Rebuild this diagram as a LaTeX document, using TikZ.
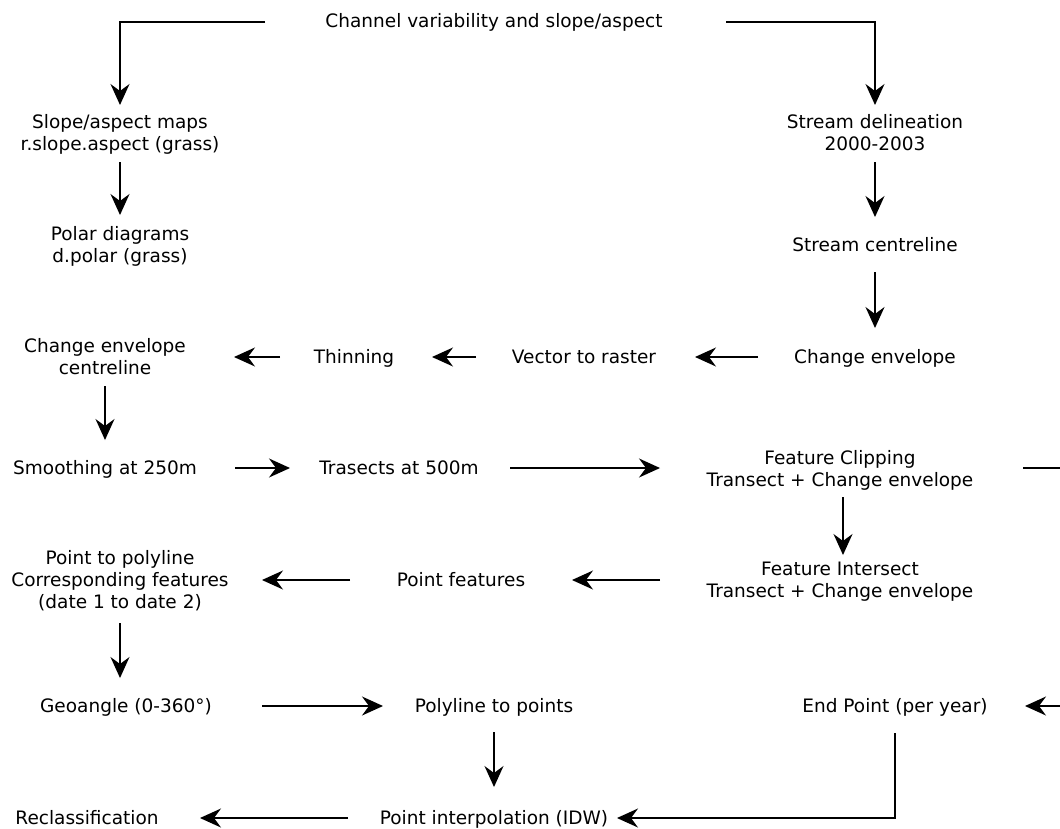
\documentclass[tikz,border=0pt]{standalone}
\usepackage{fontspec}
\setmainfont{DejaVu Sans}
\usetikzlibrary{arrows.meta,calc}

\tikzset{
  lbl/.style={inner sep=0pt, align=center, text height=13.5pt, text depth=4pt,
              font=\fontsize{18.5}{22}\selectfont},
  two/.style={lbl, text height=35.5pt},
  three/.style={lbl, text height=57.5pt},
  arr/.style={line width=1.5pt, -{Stealth[length=21pt,width=19pt,inset=7pt]}}
}

\begin{document}
\begin{tikzpicture}[x=1pt,y=-1pt]
\useasboundingbox (0,0) rectangle (1060,828);
\clip (0,0) rectangle (1060,828);
\fill[white] (0,0) rectangle (1060,828);

% processing steps
\node[lbl]   (top) at (494,23)  {Channel variability and slope/aspect};
\node[two]   (sam) at (120,135) {Slope/aspect maps\\r.slope.aspect (grass)};
\node[two]   (pd)  at (120,247) {Polar diagrams\\d.polar (grass)};
\node[two]   (sd)  at (875,135) {Stream delineation\\2000-2003};
\node[lbl]   (sc)  at (875,247) {Stream centreline};
\node[lbl]   (cer) at (875,359) {Change envelope};
\node[lbl]   (vr)  at (584,359) {Vector to raster};
\node[lbl]   (th)  at (354,359) {Thinning};
\node[two]   (cec) at (105,359) {Change envelope\\centreline};
\node[lbl]   (sm)  at (105,470) {Smoothing at 250m};
\node[lbl]   (tr)  at (399,470) {Trasects at 500m};
\node[two]   (fc)  at (840,471) {Feature Clipping\\Transect + Change envelope};
\node[two]   (fi)  at (840,582) {Feature Intersect\\Transect + Change envelope};
\node[lbl]   (pf)  at (461,582) {Point features};
\node[three] (ptp) at (120,582) {Point to polyline\\Corresponding features\\(date 1 to date 2)};
\node[lbl]   (ga)  at (126,708) {Geoangle (0-360°)};
\node[lbl]   (pp)  at (494,708) {Polyline to points};
\node[lbl]   (ep)  at (895,708) {End Point (per year)};
\node[lbl]   (pi)  at (494,820) {Point interpolation (IDW)};
\node[lbl]   (rc)  at (87,820)  {Reclassification};

% return loop running past the right edge
\coordinate (offr) at (1085,468);

% connectors
\draw[arr] ($(top.center)+(-229,-1)$) -| ($(sam.center)+(0,-30)$);
\draw[arr] ($(top.center)+(232,-1)$) -| ($(sd.center)+(0,-30)$);
\draw[arr] ($(sam.center)+(0,27)$) -- ($(pd.center)+(0,-32)$);
\draw[arr] ($(sd.center)+(0,27)$) -- ($(sc.center)+(0,-30)$);
\draw[arr] ($(sc.center)+(0,25)$) -- ($(cer.center)+(0,-31)$);
\draw[arr] ($(cer.center)+(-117,-2)$) -- ($(vr.center)+(111,-2)$);
\draw[arr] ($(vr.center)+(-108,-2)$) -- ($(th.center)+(78,-2)$);
\draw[arr] ($(th.center)+(-74,-2)$) -- ($(cec.center)+(129,-2)$);
\draw[arr] ($(cec.center)+(0,27)$) -- ($(sm.center)+(0,-30)$);
\draw[arr] ($(sm.center)+(130,-2)$) -- ($(tr.center)+(-109,-2)$);
\draw[arr] ($(tr.center)+(111,-2)$) -- ($(fc.center)+(-180,-3)$);
\draw[arr] ($(fc.center)+(183,-3)$) -- (offr) |- ($(ep.center)+(130,-2)$);
\draw[arr] ($(fc.center)+(3,26)$) -- ($(fi.center)+(3,-27)$);
\draw[arr] ($(fi.center)+(-180,-2)$) -- ($(pf.center)+(111,-2)$);
\draw[arr] ($(pf.center)+(-111,-2)$) -- ($(ptp.center)+(142,-2)$);
\draw[arr] ($(ptp.center)+(0,41)$) -- ($(ga.center)+(-6,-30)$);
\draw[arr] ($(ga.center)+(136,-2)$) -- ($(pp.center)+(-111,-2)$);
\draw[arr] ($(pp.center)+(0,24)$) -- ($(pi.center)+(0,-33)$);
\draw[arr] ($(pi.center)+(-146,-2)$) -- ($(rc.center)+(113,-2)$);
\draw[arr] ($(ep.center)+(0,25)$) |- ($(pi.center)+(123,-2)$);
\end{tikzpicture}
\end{document}
